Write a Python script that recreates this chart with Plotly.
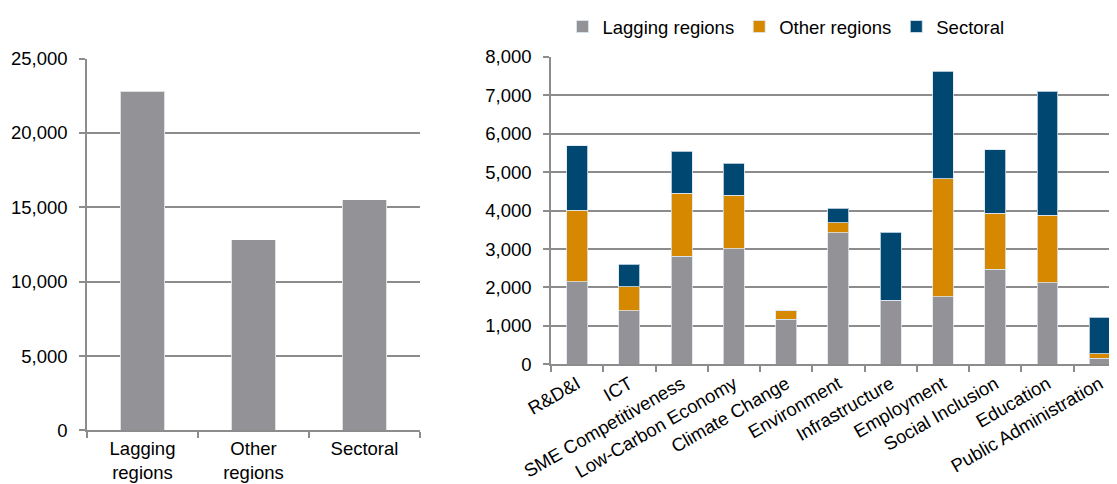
import plotly.graph_objects as go

# Left chart data
totals_categories = ["Lagging<br>regions", "Other<br>regions", "Sectoral"]
totals_values = [22820, 12820, 15510]

# Right chart data
themes = ["R&D&I", "ICT", "SME Competitiveness", "Low-Carbon Economy", "Climate Change",
          "Environment", "Infrastructure", "Employment", "Social Inclusion", "Education",
          "Public Administration"]
lagging = [2150, 1390, 2810, 3010, 1170, 3430, 1670, 1760, 2470, 2120, 155]
other = [1865, 630, 1640, 1390, 230, 260, 0, 3070, 1460, 1760, 125]
sectoral = [1675, 585, 1100, 830, 0, 370, 1770, 2800, 1660, 3230, 950]

GRAY = "#939397"
ORANGE = "#D68800"
BLUE = "#004872"
GRID = "#8c8c8c"
FONT = "Liberation Sans, Arial, sans-serif"

# the page body has an 8px margin; lay out in window pixels minus that offset
OFF = 8
W, H = 1117 - OFF, 484 - OFF


def fx(p):
    return (p - OFF) / W


def fy(p):
    return 1 - (p - OFF) / H


fig = go.Figure()
fig.add_trace(go.Bar(x=totals_categories, y=totals_values, marker_color=GRAY,
                     marker_line=dict(color="rgba(255,255,255,0.7)", width=1),
                     showlegend=False, xaxis="x", yaxis="y"))

for name, vals, col in [("Lagging regions", lagging, GRAY),
                        ("Other regions", other, ORANGE),
                        ("Sectoral", sectoral, BLUE)]:
    fig.add_trace(go.Bar(x=themes, y=vals, name=name, marker_color=col,
                         marker_line=dict(color="rgba(220,230,240,0.8)", width=1),
                         xaxis="x2", yaxis="y2"))

axis_common = dict(showline=True, linecolor=GRID, linewidth=1.5, automargin=False,
                   ticks="outside", ticklen=6, tickcolor=GRID, tickwidth=1.5,
                   tickfont=dict(size=18.5, color="#000000", family=FONT))

fig.update_layout(
    width=W, height=H,
    margin=dict(l=0, r=0, t=0, b=0),
    paper_bgcolor="white", plot_bgcolor="white",
    barmode="stack", bargap=0.6,
    font=dict(family=FONT, size=18.5, color="#000000"),
    xaxis=dict(domain=[fx(87), fx(420)], anchor="y", type="category",
               tickson="boundaries", showgrid=False, ticklabelstandoff=1, **axis_common),
    yaxis=dict(domain=[fy(430), fy(55)], anchor="x", range=[0, 25000],
               dtick=5000, tickformat=",", showgrid=True, gridcolor=GRID, gridwidth=1.5,
               zeroline=False, ticklabelstandoff=8, **axis_common),
    xaxis2=dict(domain=[fx(551), 1.0], anchor="y2", type="category",
                tickson="boundaries", range=[-0.5, 10.33], tickangle=-30,
                showgrid=False, ticklabelstandoff=0, **axis_common),
    yaxis2=dict(domain=[fy(363.3), fy(53.3)], anchor="x2", range=[0, 8000],
                dtick=1000, tickformat=",", showgrid=True, gridcolor=GRID, gridwidth=1.5,
                zeroline=False, ticklabelstandoff=8, **axis_common),
    legend=dict(orientation="h", x=fx(786), y=fy(23), xanchor="center", yanchor="middle",
                font=dict(size=18.5, family=FONT, color="#000000"), itemwidth=30,
                traceorder="normal"),
)

fig.write_html("out.html")
